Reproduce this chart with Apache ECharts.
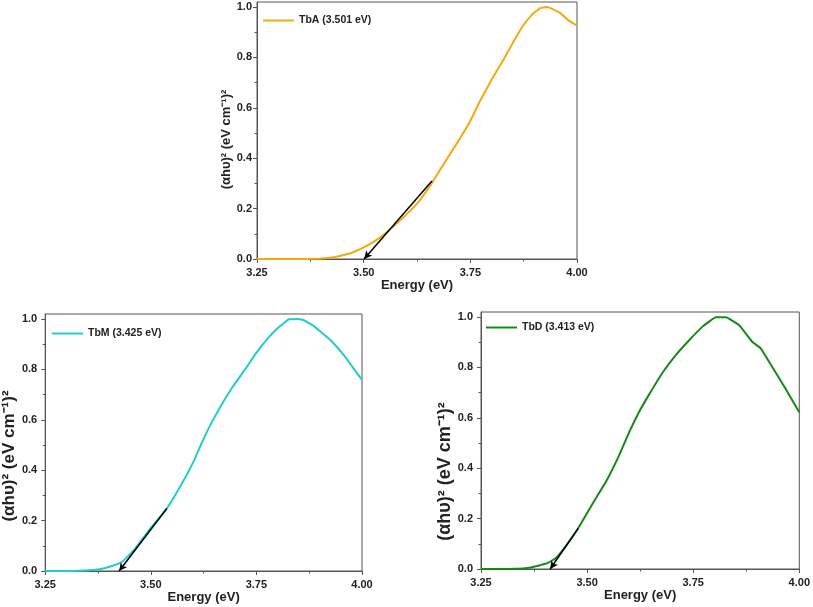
<!DOCTYPE html>
<html>
<head>
<meta charset="utf-8">
<script src="https://cdn.jsdelivr.net/npm/echarts@6/dist/echarts.min.js"></script>
<style>
html,body{margin:0;padding:0;background:#fff;}
#c{width:813px;height:607px;}
</style>
</head>
<body>
<div id="c"></div>
<script>
// ---- Data ----
const xTicks = [3.25, 3.50, 3.75, 4.00];
const yTicks = [0.0, 0.2, 0.4, 0.6, 0.8, 1.0];
const yMinorTicks = [0.1, 0.3, 0.5, 0.7, 0.9];

const nameA = 'TbA (3.501 eV)';
const energyA = [3.25, 3.30, 3.35, 3.38, 3.40, 3.42, 3.444, 3.475, 3.507, 3.538, 3.569, 3.601, 3.632, 3.660, 3.687, 3.718, 3.749, 3.773, 3.800, 3.828, 3.851, 3.871, 3.894, 3.914, 3.930, 3.945, 3.961, 3.980, 4.00];
const valueA  = [0, 0, 0, 0.001, 0.002, 0.005, 0.012, 0.027, 0.052, 0.085, 0.128, 0.178, 0.234, 0.302, 0.375, 0.458, 0.545, 0.628, 0.712, 0.792, 0.862, 0.920, 0.969, 0.996, 1.000, 0.990, 0.976, 0.947, 0.926];
const tangentA = [[3.660, 0.310], [3.501, 0]];

const nameM = 'TbM (3.425 eV)';
const energyM = [3.25, 3.30, 3.33, 3.369, 3.39, 3.408, 3.432, 3.463, 3.502, 3.538, 3.573, 3.600, 3.620, 3.643, 3.667, 3.694, 3.722, 3.749, 3.777, 3.804, 3.827, 3.845, 3.861, 3.886, 3.925, 3.957, 3.980, 4.00];
const valueM  = [0, 0, 0.001, 0.005, 0.011, 0.020, 0.036, 0.089, 0.175, 0.248, 0.345, 0.430, 0.506, 0.586, 0.658, 0.731, 0.797, 0.864, 0.923, 0.969, 0.999, 1.000, 0.996, 0.972, 0.917, 0.857, 0.804, 0.758];
const tangentM = [[3.538, 0.248], [3.425, 0]];

const nameD = 'TbD (3.413 eV)';
const energyD = [3.25, 3.30, 3.33, 3.35, 3.37, 3.389, 3.408, 3.428, 3.452, 3.479, 3.514, 3.545, 3.576, 3.600, 3.623, 3.647, 3.678, 3.709, 3.741, 3.772, 3.790, 3.803, 3.827, 3.858, 3.889, 3.909, 3.936, 3.967, 4.00];
const valueD  = [0, 0, 0.001, 0.002, 0.007, 0.015, 0.024, 0.046, 0.096, 0.162, 0.262, 0.348, 0.453, 0.546, 0.625, 0.695, 0.780, 0.849, 0.909, 0.962, 0.985, 0.999, 0.999, 0.968, 0.902, 0.876, 0.803, 0.717, 0.622];
const tangentD = [[3.479, 0.161], [3.413, 0]];

const xName = 'Energy (eV)';
const yName = '(αhυ)² (eV cm⁻¹)²';

// ---- Styling / layout ----
const FONT = "'Liberation Sans', Arial, sans-serif";
const AX = '#555';
const colors = ['#f5a80f', '#22cccc', '#168a16'];

const panels = [
  {grid:{left:257, top:2, width:320, height:257}, name:nameA, x:energyA, y:valueA, tan:tangentA,
   legend:{left:263, top:15}, labelMargin:5, yNameSize:13, yNameGap:24, yShift:18},
  {grid:{left:43, top:314, width:319, height:257}, name:nameM, x:energyM, y:valueM, tan:tangentM,
   legend:{left:52, top:328}, labelMargin:8, yNameSize:17, yNameGap:23, yShift:27},
  {grid:{left:481, top:312, width:320, height:257}, name:nameD, x:energyD, y:valueD, tan:tangentD,
   legend:{left:486, top:322}, labelMargin:8, yNameSize:18, yNameGap:24, yShift:62}
];

const grids = [], xAxes = [], yAll = [], series = [], legends = [];
panels.forEach((p, i) => {
  grids.push(Object.assign({show:true, borderColor:AX, borderWidth:1, backgroundColor:'transparent'}, p.grid));
  xAxes.push({
    type:'value', gridIndex:i, min:3.25, max:4.0, interval:0.25,
    name:xName, nameLocation:'middle', nameGap:20,
    nameTextStyle:{fontFamily:FONT, fontWeight:'bold', fontSize:13, color:'#222'},
    axisLine:{show:true, onZero:false, lineStyle:{color:AX, width:1}},
    axisTick:{show:true, inside:false, length:4, lineStyle:{color:AX}},
    minorTick:{show:true, splitNumber:2, length:2.5, lineStyle:{color:AX}},
    splitLine:{show:false}, minorSplitLine:{show:false},
    axisLabel:{margin:8, fontFamily:FONT, fontWeight:'bold', fontSize:11, color:'#222',
      formatter:v => v.toFixed(2)}
  });
  yAll.push({
    type:'value', gridIndex:i, min:0, max:1.02, interval:0.2, position:'left',
    name:yName, nameLocation:'middle', nameGap:p.yNameGap, nameRotate:90,
    nameTextStyle:{fontFamily:FONT, fontWeight:'bold', fontSize:p.yNameSize, color:'#222', padding:[0, p.yShift, 0, 0]},
    axisLine:{show:true, onZero:false, lineStyle:{color:AX, width:1}},
    axisTick:{show:true, inside:false, length:4, lineStyle:{color:AX}, customValues:yTicks},
    splitLine:{show:false},
    axisLabel:{margin:p.labelMargin, fontFamily:FONT, fontWeight:'bold', fontSize:11, color:'#222',
      customValues:yTicks, formatter:v => v.toFixed(1)}
  });
  // helper axis: y minor ticks
  yAll.push({
    type:'value', gridIndex:i, min:0, max:1.02, position:'left', offset:0,
    axisLine:{show:false}, axisLabel:{show:false}, splitLine:{show:false},
    axisTick:{show:true, inside:false, length:2.5, lineStyle:{color:AX}, customValues:yMinorTicks}
  });
  legends.push({
    data:[{name:p.name, icon:'rect'}], left:p.legend.left, top:p.legend.top, orient:'horizontal',
    itemWidth:31, itemHeight:2, itemGap:5, padding:0, selectedMode:false,
    itemStyle:{color:colors[i]},
    textStyle:{fontFamily:FONT, fontWeight:'bold', fontSize:10.5, color:'#222'}
  });
  series.push({
    type:'line', name:p.name, xAxisIndex:i, yAxisIndex:i*2, smooth:0.1, symbol:'none',
    lineStyle:{color:colors[i], width:2, join:'round'}, itemStyle:{color:colors[i]},
    data:p.x.map((e, k) => [e, p.y[k]]),
    markLine:{
      silent:true, symbol:['none','arrow'], symbolSize:[6,8], animation:false,
      label:{show:false}, lineStyle:{color:'#000', width:1.5, type:'solid'},
      data:[[{coord:p.tan[0]}, {coord:p.tan[1]}]]
    },
    z:3
  });
});

const chart = echarts.init(document.getElementById('c'), null, {renderer:'canvas'});
chart.setOption({
  animation:false,
  backgroundColor:'#fff',
  grid:grids, xAxis:xAxes, yAxis:yAll, legend:legends, series:series
});
</script>
</body>
</html>
